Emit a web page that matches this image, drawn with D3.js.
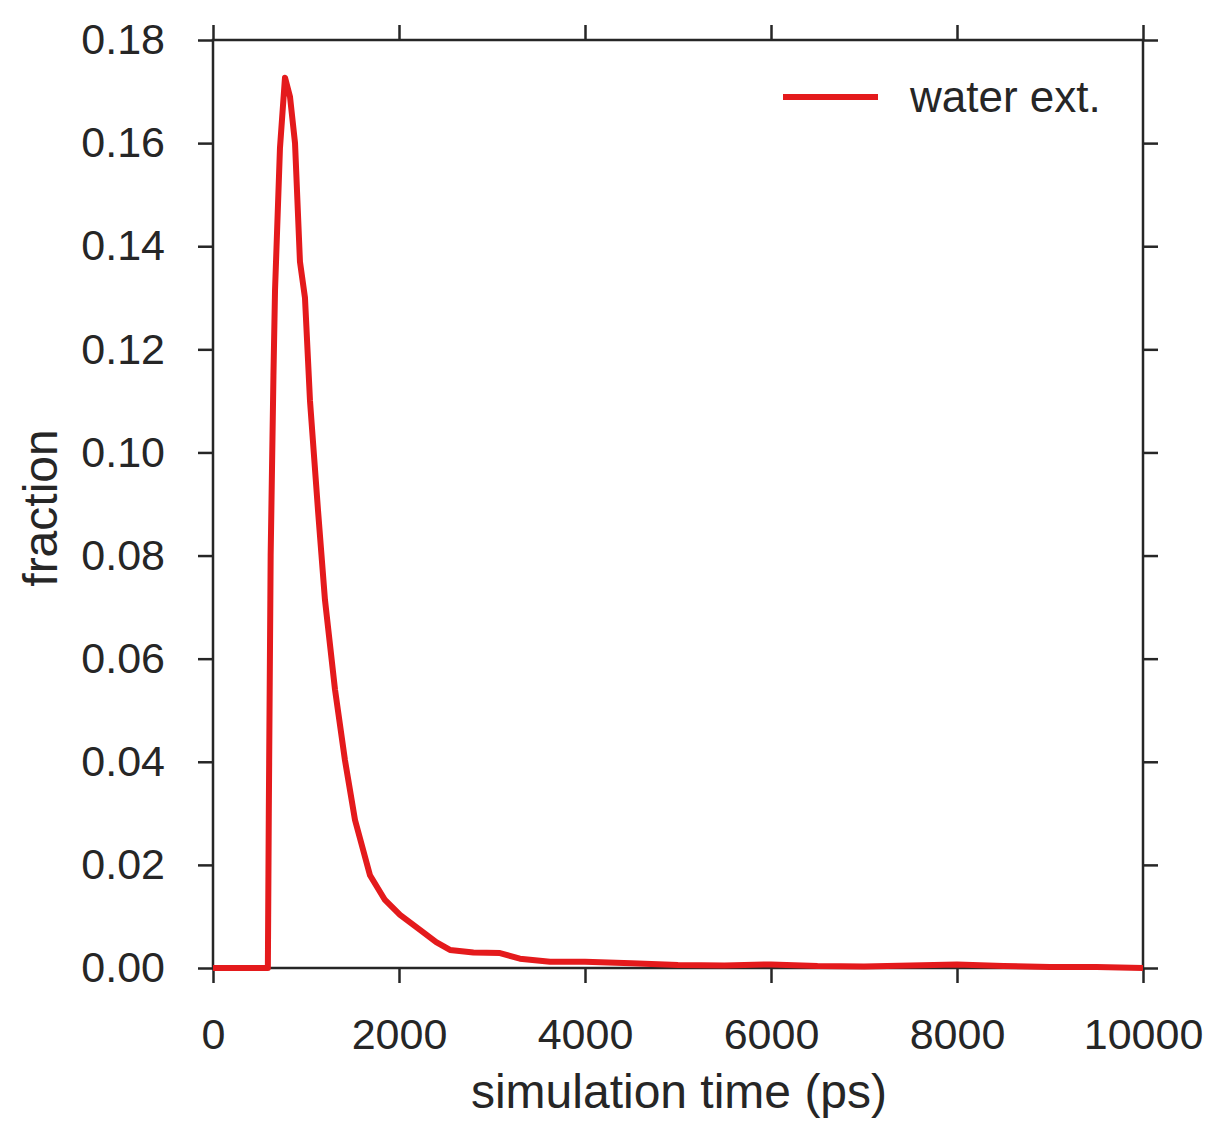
<!DOCTYPE html>
<html><head><meta charset="utf-8">
<script src="https://cdn.jsdelivr.net/npm/d3@7"></script>
<style>body{margin:0;background:#fff}svg{font-family:"Liberation Sans",Arial,sans-serif}</style>
</head><body><svg id="c" width="1225" height="1138"></svg>
<script>
const xTicks = [0, 2000, 4000, 6000, 8000, 10000];
const yTicks = [0, 0.02, 0.04, 0.06, 0.08, 0.10, 0.12, 0.14, 0.16, 0.18];
const seriesName = "water ext.";
const time = [0, 400, 590, 600, 620, 650, 667, 720, 774, 828, 882, 935, 989, 1043, 1129, 1204, 1312, 1419, 1527, 1688, 1849, 2011, 2226, 2400, 2548, 2800, 3086, 3300, 3624, 4000, 4500, 5000, 5500, 6000, 6500, 7000, 7500, 8000, 8500, 9000, 9500, 10000];
const fraction = [0, 0, 0, 0.03, 0.08, 0.115, 0.1315, 0.159, 0.1727, 0.169, 0.16, 0.137, 0.13, 0.11, 0.0888, 0.0714, 0.054, 0.0403, 0.0287, 0.018, 0.0132, 0.0103, 0.0074, 0.005, 0.0035, 0.003, 0.0029, 0.0018, 0.0012, 0.0012, 0.0009, 0.0006, 0.0005, 0.0007, 0.0004, 0.0003, 0.0005, 0.0007, 0.0004, 0.0002, 0.0002, 0];

const svg = d3.select("#c");
const L = 213, R = 1143, T = 40, B = 968;
const x = d3.scaleLinear().domain([0, 10000]).range([L, R]);
const y = d3.scaleLinear().domain([0, 0.18]).range([B, T]);
const ink = "#262626";

function styleAxis(g) {
  g.select(".domain").remove();
  g.selectAll("line").attr("stroke", ink).attr("stroke-width", 2.5);
  g.selectAll("text").attr("fill", ink).attr("font-size", 43);
}
svg.append("g").attr("transform", `translate(0,${B})`)
  .call(d3.axisBottom(x).tickValues(xTicks).tickSize(15).tickPadding(35).tickFormat(d3.format("d"))).call(styleAxis);
svg.append("g").attr("transform", `translate(0,${T})`)
  .call(d3.axisTop(x).tickValues(xTicks).tickSize(15).tickFormat("")).call(styleAxis);
svg.append("g").attr("transform", `translate(${L},0)`)
  .call(d3.axisLeft(y).tickValues(yTicks).tickSize(15).tickPadding(33).tickFormat(d3.format(".2f"))).call(styleAxis);
svg.append("g").attr("transform", `translate(${R},0)`)
  .call(d3.axisRight(y).tickValues(yTicks).tickSize(15).tickFormat("")).call(styleAxis);

svg.append("rect").attr("x", L).attr("y", T).attr("width", R - L).attr("height", B - T)
  .attr("fill", "none").attr("stroke", ink).attr("stroke-width", 2.5);

const line = d3.line().x((d, i) => x(time[i])).y(d => y(d));
svg.append("path").datum(fraction).attr("d", line)
  .attr("fill", "none").attr("stroke", "#e41a1c").attr("stroke-width", 6).attr("stroke-linejoin", "round");

svg.append("line").attr("x1", 783).attr("x2", 878).attr("y1", 97).attr("y2", 97)
  .attr("stroke", "#e41a1c").attr("stroke-width", 6);
svg.append("text").attr("x", 910).attr("y", 112).attr("font-size", 44).attr("fill", ink).text(seriesName);

svg.append("text").attr("x", 679).attr("y", 1108).attr("text-anchor", "middle")
  .attr("font-size", 48).attr("fill", ink).text("simulation time (ps)");
svg.append("text").attr("transform", `translate(57,508) rotate(-90)`).attr("text-anchor", "middle")
  .attr("font-size", 48).attr("fill", ink).text("fraction");
</script></body></html>
